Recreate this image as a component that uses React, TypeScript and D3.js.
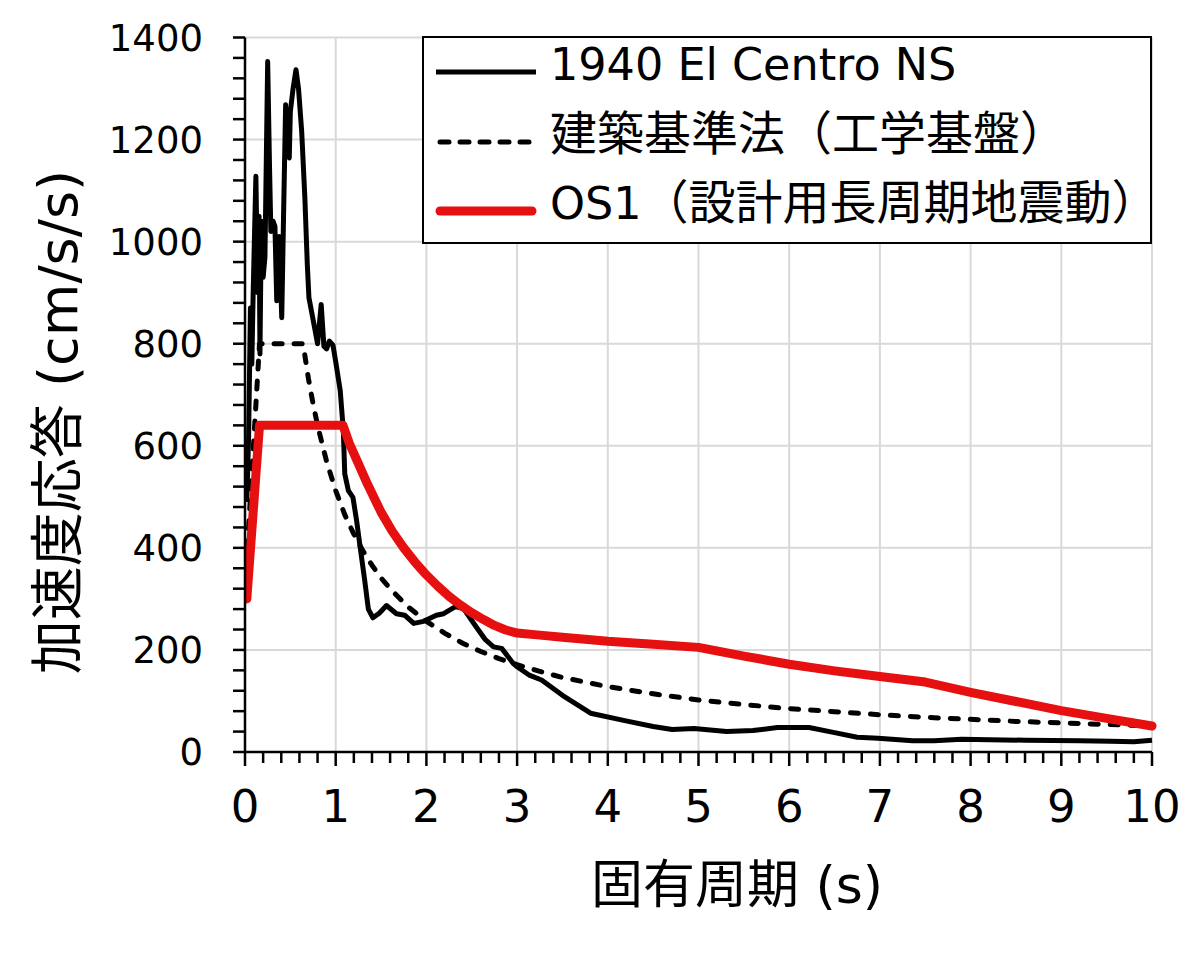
import React from "react";
import * as d3 from "d3";

// ---- data ----
const elCentroT = [
  0.02, 0.04, 0.06, 0.075, 0.09, 0.12, 0.14, 0.155, 0.165, 0.18, 0.2, 0.22, 0.25, 0.27, 0.285,
  0.31, 0.33, 0.35, 0.378, 0.405, 0.425, 0.448, 0.47, 0.488, 0.5, 0.53, 0.562, 0.59, 0.625,
  0.66, 0.687, 0.705, 0.753, 0.8, 0.84, 0.87, 0.9, 0.93, 0.97, 1.0, 1.05, 1.084, 1.1, 1.14,
  1.19, 1.23, 1.27, 1.32, 1.36, 1.41, 1.48, 1.56, 1.67, 1.76, 1.86, 1.97, 2.11, 2.19, 2.32,
  2.41, 2.55, 2.65, 2.74, 2.83, 2.96, 3.0, 3.14, 3.27, 3.5, 3.81, 4.2, 4.5, 4.71, 4.95, 5.31,
  5.6, 5.87, 6.22, 6.5, 6.75, 6.98, 7.36, 7.6, 7.9, 8.61, 9.2, 9.54, 9.8, 10,
];
const elCentroSa = [
  490, 620, 870, 760, 900, 1128, 900, 1050, 780, 1040, 930, 970, 1353, 1150, 1020,
  1040, 1030, 884, 1010, 851, 1050, 1268, 1170, 1164, 1255, 1300, 1337, 1300, 1216,
  1086, 955, 890, 845, 800, 877, 795, 790, 805, 797, 765, 708, 630, 545, 512,
  499, 454, 401, 336, 280, 263, 272, 287, 271, 268, 252, 256, 268, 271, 285,
  281, 245, 220, 206, 203, 173, 167, 150, 141, 111, 76, 61, 50, 44, 46, 40,
  42, 48, 48, 38, 29, 27, 22, 22, 25, 23, 22, 21, 20, 23,
];

const bslT = [
  0, 0.16, 0.64, 0.7, 0.75, 0.8, 0.9, 1.0, 1.1, 1.2, 1.3, 1.4, 1.5, 1.6, 1.8, 2.0, 2.2, 2.4,
  2.6, 2.8, 3.0, 3.25, 3.5, 3.75, 4.0, 4.5, 5, 5.5, 6, 6.5, 7, 7.5, 8, 8.5, 9, 9.5, 10,
];
const bslSa = [
  320, 800, 800, 731, 683, 640, 569, 512, 465, 427, 394, 366, 341, 320, 284, 256, 233, 213,
  197, 183, 171, 158, 146, 137, 128, 114, 102, 93, 85, 79, 73, 68, 64, 60, 57, 54, 51,
];

const os1T = [
  0.02, 0.16, 1.08, 1.15, 1.25, 1.35, 1.5, 1.625, 1.75, 1.875, 2.0, 2.125, 2.25, 2.375, 2.5,
  2.625, 2.75, 2.875, 3.0, 3.25, 3.5, 3.75, 4.0, 4.5, 5.0, 5.5, 6.0, 6.5, 7.0, 7.5, 8.0, 8.5,
  9.0, 9.5, 10,
];
const os1Sa = [
  300, 640, 640, 605, 565, 525, 470, 432, 400, 372, 347, 325, 305, 288, 273,
  260, 248, 239, 233, 229, 225, 221, 217, 211, 205, 188, 172, 159, 148, 137, 117, 99,
  81, 66, 51,
];

const xTicks = [0, 1, 2, 3, 4, 5, 6, 7, 8, 9, 10];
const yTicks = [0, 200, 400, 600, 800, 1000, 1200, 1400];
const legendLabels = ["1940 El Centro NS", "建築基準法（工学基盤）", "OS1（設計用長周期地震動）"];
const xTitle = "固有周期 (s)";
const yTitle = "加速度応答 (cm/s/s)";

const FONT = "'DejaVu Sans', 'Noto Sans CJK JP', sans-serif";
const RED = "#e5100f";

function runs(s: string) {
  const out: { t: string; cjk: boolean }[] = [];
  for (const ch of s) {
    const cjk = ch.codePointAt(0)! > 0x2e80;
    if (out.length && out[out.length - 1].cjk === cjk) out[out.length - 1].t += ch;
    else out.push({ t: ch, cjk });
  }
  return out;
}

export default function App() {
  const W = 1200, H = 959;
  const x = d3.scaleLinear().domain([0, 10]).range([245, 1152]);
  const y = d3.scaleLinear().domain([0, 1400]).range([752, 37.5]);

  const mk = (ts: number[], vs: number[]) =>
    d3.line<number>().x((_, i) => x(ts[i])).y((_, i) => y(vs[i])).curve(d3.curveLinear)(ts.map((_, i) => i)) || "";

  const blackPath = mk(elCentroT, elCentroSa);
  const dashPath = mk(bslT, bslSa);
  const redPath = mk(os1T, os1Sa);

  const minorX = d3.range(0, 10.001, 0.2);
  const minorY = d3.range(0, 1400.1, 40);

  const legendRows = [
    { base: 80, stroke: "#000", w: 5, dash: undefined as string | undefined, cap: "butt" },
    { base: 150, stroke: "#000", w: 5, dash: "9,11", cap: "round" },
    { base: 219, stroke: RED, w: 9, dash: undefined, cap: "round" },
  ];

  return (
    <svg width={W} height={H} style={{ position: "absolute", left: 0, top: 0, display: "block", background: "#fff" }}>
      <defs>
        <clipPath id="plot">
          <rect x={x(0)} y={y(1400) - 5} width={x(10) - x(0) + 5} height={y(0) - y(1400) + 5} />
        </clipPath>
      </defs>
      {/* grid */}
      <g stroke="#d9d9d9" strokeWidth={2}>
        {xTicks.filter((t) => t > 0).map((t) => (
          <line key={"gx" + t} x1={x(t)} x2={x(t)} y1={y(0)} y2={y(1400)} />
        ))}
        {yTicks.filter((t) => t > 0).map((t) => (
          <line key={"gy" + t} x1={x(0)} x2={x(10)} y1={y(t)} y2={y(t)} />
        ))}
      </g>
      {/* series */}
      <g clipPath="url(#plot)" fill="none" strokeLinejoin="round">
        <path d={blackPath} stroke="#000" strokeWidth={5} />
        <path d={dashPath} stroke="#000" strokeWidth={5} strokeDasharray="8,12" strokeLinecap="round" />
        <path d={redPath} stroke={RED} strokeWidth={9} strokeLinecap="round" />
      </g>
      {/* axes */}
      <g stroke="#000" strokeWidth={2.5}>
        <line x1={x(0)} x2={x(0)} y1={y(1400)} y2={y(0) + 1} />
        <line x1={x(0) - 1} x2={x(10)} y1={y(0)} y2={y(0)} />
        {minorY.map((t) => (
          <line key={"ty" + t} x1={x(0) - 12} x2={x(0)} y1={y(t)} y2={y(t)} />
        ))}
        {minorX.map((t) => {
          const major = Math.abs(t - Math.round(t)) < 1e-6;
          return <line key={"tx" + t} x1={x(t)} x2={x(t)} y1={y(0)} y2={y(0) + (major ? 14 : 11)} />;
        })}
      </g>
      {/* tick labels */}
      <g fontFamily={FONT} fill="#000">
        {yTicks.map((t) => (
          <text key={"ly" + t} x={203} y={y(t)} dy="0.36em" fontSize={37} textAnchor="end">
            {t}
          </text>
        ))}
        {xTicks.map((t) => (
          <text key={"lx" + t} x={x(t)} y={822} fontSize={45} textAnchor="middle">
            {t}
          </text>
        ))}
      </g>
      {/* axis titles */}
      <text x={737} y={903} fontFamily={FONT} fontSize={52} textAnchor="middle">
        {xTitle}
      </text>
      <text
        transform={`translate(77,422) rotate(-90)`}
        fontFamily={FONT}
        fontSize={54}
        textAnchor="middle"
      >
        {yTitle}
      </text>
      {/* legend */}
      <rect x={423} y={37} width={728} height={206} fill="#fff" stroke="#000" strokeWidth={2} />
      {legendRows.map((r, i) => (
        <g key={"lg" + i}>
          <line
            x1={r.cap === "round" ? 440 : 436}
            x2={r.cap === "round" ? 532 : 536}
            y1={r.base - 8}
            y2={r.base - 8}
            stroke={r.stroke}
            strokeWidth={r.w}
            strokeDasharray={r.dash}
            strokeLinecap={r.cap as any}
          />
          <text x={550} y={r.base} fontFamily={FONT} fill="#000">
            {runs(legendLabels[i]).map((s, j) => (
              <tspan key={j} fontSize={s.cjk ? 47 : 44.5}>
                {s.t}
              </tspan>
            ))}
          </text>
        </g>
      ))}
    </svg>
  );
}
